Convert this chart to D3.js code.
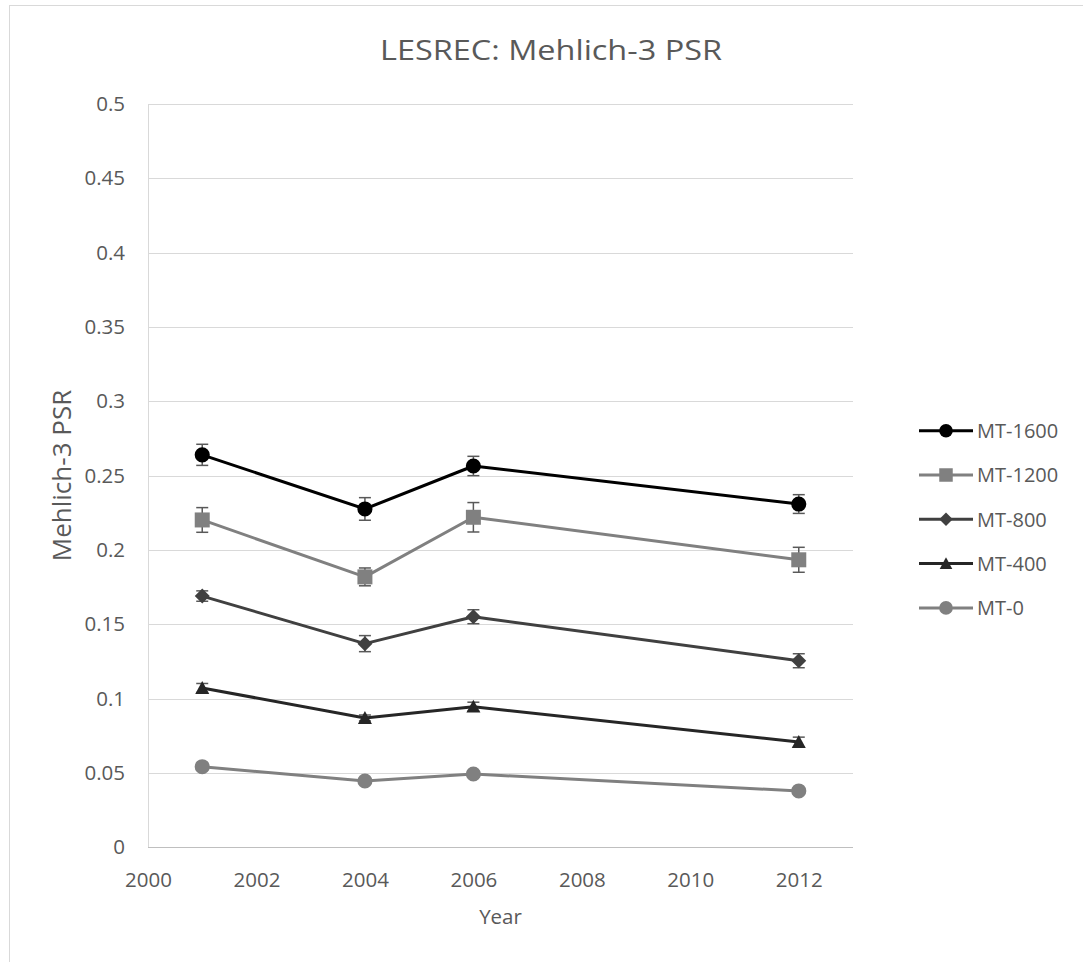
<!DOCTYPE html>
<html><head><meta charset="utf-8">
<script src="https://cdn.jsdelivr.net/npm/d3@7"></script>
<style>body{margin:0;background:#fff;} text{font-family:"Open Sans",sans-serif;}</style>
</head><body>
<svg id="c" width="1083" height="962"></svg>
<script>
const years = [2001, 2004, 2006, 2012];
const seriesNames = ["MT-1600", "MT-1200", "MT-800", "MT-400", "MT-0"];
const mt1600 = [0.264, 0.2276, 0.2565, 0.2309];
const mt1200 = [0.2202, 0.1819, 0.222, 0.1934];
const mt800 = [0.169, 0.137, 0.1551, 0.1255];
const mt400 = [0.1072, 0.087, 0.0946, 0.0708];
const mt0 = [0.0542, 0.0446, 0.0493, 0.0379];
const err1600 = [0.0071, 0.0076, 0.0065, 0.0063];
const err1200 = [0.0083, 0.006, 0.0099, 0.0084];
const err800 = [0.0035, 0.0054, 0.0047, 0.0047];
const err400 = [0.003, 0.002, 0.003, 0.0033];
const err0 = [0.002, 0.002, 0.002, 0.002];
const xTicks = [2000, 2002, 2004, 2006, 2008, 2010, 2012];
const yTicks = [0, 0.05, 0.1, 0.15, 0.2, 0.25, 0.3, 0.35, 0.4, 0.45, 0.5];

const seriesValues = [mt1600, mt1200, mt800, mt400, mt0];
const seriesErr = [err1600, err1200, err800, err400, err0];
const colors = ["#000000", "#808080", "#404040", "#262626", "#808080"];
const shapeNames = ["circle", "square", "diamond", "triangle", "circle"];

function markerPath(type, k) {
  k = k || 1;
  if (type === "circle") return d3.symbol().type(d3.symbolCircle).size(180 * k * k)();
  if (type === "square") { const h = 7.5 * k; return `M${-h},${-h}H${h}V${h}H${-h}Z`; }
  if (type === "diamond") { const h = 7.5 * k; return `M0,${-h}L${h},0L0,${h}L${-h},0Z`; }
  if (type === "triangle") { const h = 7 * k; return `M0,${-h}L${h},${h * 0.85}L${-h},${h * 0.85}Z`; }
}

const svg = d3.select("#c");
svg.append("rect").attr("x", 9.5).attr("y", 5.5).attr("width", 1100).attr("height", 1000)
  .attr("fill", "none").attr("stroke", "#d9d9d9").attr("stroke-width", 1);

const x = d3.scaleLinear().domain([2000, 2013]).range([148, 853]);
const y = d3.scaleLinear().domain([0, 0.5]).range([847.3, 104]);

svg.append("g").selectAll("line").data(yTicks.filter(d => d > 0)).join("line")
  .attr("x1", x(2000)).attr("x2", x(2013))
  .attr("y1", d => Math.round(y(d)) + 0.5).attr("y2", d => Math.round(y(d)) + 0.5)
  .attr("stroke", "#d9d9d9").attr("stroke-width", 1);

svg.append("line").attr("x1", 148.5).attr("x2", 148.5).attr("y1", Math.round(y(0.5)) + 0.5).attr("y2", Math.round(y(0)) + 0.5)
  .attr("stroke", "#d9d9d9");
svg.append("line").attr("x1", x(2000)).attr("x2", x(2013)).attr("y1", Math.round(y(0)) + 0.5).attr("y2", Math.round(y(0)) + 0.5)
  .attr("stroke", "#bfbfbf");

const yAxis = d3.axisLeft(y).tickValues(yTicks).tickSize(0).tickPadding(23).tickFormat(d => String(+d.toFixed(2)));
const gy = svg.append("g").attr("transform", "translate(148,0)").call(yAxis);
gy.select(".domain").remove();
gy.selectAll("text").attr("fill", "#595959").style("font-size", "20.5px").style("font-family", "'Open Sans',sans-serif");

const xAxis = d3.axisBottom(x).tickValues(xTicks).tickSize(0).tickPadding(25).tickFormat(d3.format("d"));
const gx = svg.append("g").attr("transform", "translate(0,847.3)").call(xAxis);
gx.select(".domain").remove();
gx.selectAll("text").attr("fill", "#595959").style("font-size", "20.5px").style("font-family", "'Open Sans',sans-serif");

svg.append("text").attr("x", 551).attr("y", 59.5).attr("text-anchor", "middle")
  .attr("fill", "#595959").style("font-size", "27px")
  .attr("textLength", 342).attr("lengthAdjust", "spacingAndGlyphs").text("LESREC: Mehlich-3 PSR");
svg.append("text").attr("x", 500.5).attr("y", 924).attr("text-anchor", "middle")
  .attr("fill", "#595959").style("font-size", "20.5px").text("Year");
svg.append("text").attr("transform", "translate(71,475.5) rotate(-90)").attr("text-anchor", "middle")
  .attr("fill", "#595959").style("font-size", "26px").text("Mehlich-3 PSR");

const line = d3.line().x((d, i) => x(years[i])).y(d => y(d));

for (let s = seriesValues.length - 1; s >= 0; s--) {
  const vals = seriesValues[s], errs = seriesErr[s];
  const g = svg.append("g");
  vals.forEach((v, i) => {
    const cx = x(years[i]);
    const y1 = y(v + errs[i]), y2 = y(v - errs[i]);
    g.append("line").attr("x1", cx).attr("x2", cx).attr("y1", y1).attr("y2", y2).attr("stroke", "#595959").attr("stroke-width", 1.5);
    [y1, y2].forEach(yy => g.append("line").attr("x1", cx - 6).attr("x2", cx + 6).attr("y1", yy).attr("y2", yy).attr("stroke", "#595959").attr("stroke-width", 1.5));
  });
  g.append("path").datum(vals).attr("d", line).attr("fill", "none").attr("stroke", colors[s])
    .attr("stroke-width", 3).attr("stroke-linejoin", "round");
  g.selectAll("path.m").data(vals).join("path").attr("class", "m")
    .attr("transform", (d, i) => `translate(${x(years[i])},${y(d)})`)
    .attr("d", markerPath(shapeNames[s])).attr("fill", colors[s]);
}

const legY0 = 430.7, legStep = 44.3;
seriesNames.forEach((name, s) => {
  const ly = legY0 + s * legStep;
  const g = svg.append("g");
  g.append("line").attr("x1", 919).attr("x2", 973).attr("y1", ly).attr("y2", ly).attr("stroke", colors[s]).attr("stroke-width", 3);
  g.append("path").attr("transform", `translate(946,${ly})`)
    .attr("d", markerPath(shapeNames[s], 0.9)).attr("fill", colors[s]);
  g.append("text").attr("x", 977).attr("y", ly).attr("dy", "0.36em").attr("fill", "#595959")
    .style("font-size", "20px").text(name);
});
</script>
</body></html>
